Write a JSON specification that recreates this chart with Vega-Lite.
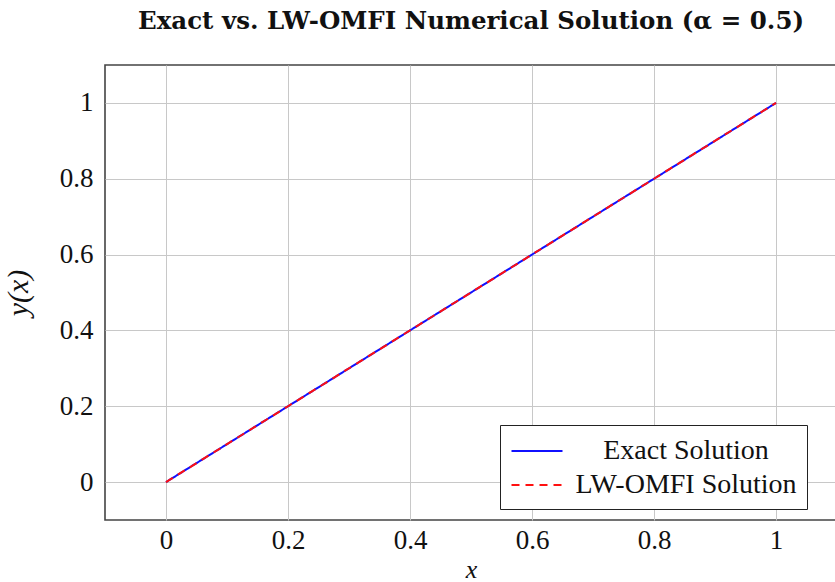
{
  "$schema": "https://vega.github.io/schema/vega-lite/v6.json",
  "autosize": "none",
  "width": 732,
  "height": 455,
  "padding": {"left": 105, "top": 65, "right": 0, "bottom": 62},
  "background": "white",
  "title": {
    "text": "Exact vs. LW-OMFI Numerical Solution (α = 0.5)",
    "font": "DejaVu Serif",
    "fontSize": 24.5,
    "fontWeight": "bold",
    "anchor": "middle",
    "offset": 31,
    "color": "#111"
  },
  "config": {
    "view": {"stroke": "#444", "strokeWidth": 1.6},
    "axis": {
      "labelFont": "Liberation Serif",
      "labelFontSize": 27,
      "labelColor": "#111",
      "titleFont": "Liberation Serif",
      "titleFontSize": 30,
      "titleFontStyle": "italic",
      "titleFontWeight": "normal",
      "titleColor": "#111",
      "grid": true,
      "gridColor": "#c8c8c8",
      "gridWidth": 1,
      "domain": false,
      "ticks": false
    }
  },
  "data": {
    "values": [
      {"x": 0, "y": 0, "series": "Exact Solution"},
      {"x": 0.2, "y": 0.2, "series": "Exact Solution"},
      {"x": 0.4, "y": 0.4, "series": "Exact Solution"},
      {"x": 0.6, "y": 0.6, "series": "Exact Solution"},
      {"x": 0.8, "y": 0.8, "series": "Exact Solution"},
      {"x": 1, "y": 1, "series": "Exact Solution"},
      {"x": 0, "y": 0, "series": "LW-OMFI Solution"},
      {"x": 0.2, "y": 0.2, "series": "LW-OMFI Solution"},
      {"x": 0.4, "y": 0.4, "series": "LW-OMFI Solution"},
      {"x": 0.6, "y": 0.6, "series": "LW-OMFI Solution"},
      {"x": 0.8, "y": 0.8, "series": "LW-OMFI Solution"},
      {"x": 1, "y": 1, "series": "LW-OMFI Solution"}
    ]
  },
  "mark": {"type": "line", "strokeWidth": 2},
  "encoding": {
    "x": {
      "field": "x", "type": "quantitative",
      "scale": {"domain": [-0.1, 1.1], "nice": false, "zero": false},
      "axis": {"values": [0, 0.2, 0.4, 0.6, 0.8, 1], "format": "~g", "labelPadding": 7, "title": "x", "titleFontSize": 26, "titlePadding": 3}
    },
    "y": {
      "field": "y", "type": "quantitative",
      "scale": {"domain": [-0.1, 1.1], "nice": false, "zero": false},
      "axis": {"values": [0, 0.2, 0.4, 0.6, 0.8, 1], "format": "~g", "labelPadding": 12, "title": "y(x)", "titlePadding": 26}
    },
    "color": {
      "field": "series", "type": "nominal",
      "scale": {"domain": ["Exact Solution", "LW-OMFI Solution"], "range": ["#1010ff", "#ff1010"]},
      "legend": {
        "title": null,
        "orient": "none",
        "legendX": 395,
        "legendY": 360,
        "fillColor": "white",
        "strokeColor": "#222",
        "padding": 10,
        "labelFont": "Liberation Serif",
        "labelFontSize": 28,
        "labelColor": "#111",
        "labelLimit": 400,
        "labelAlign": "center",
        "labelOffset": 133,
        "symbolType": "M-1.7,0H1.7",
        "symbolSize": 900,
        "symbolOffset": 11,
        "symbolStrokeWidth": 2,
        "symbolFillColor": "transparent",
        "rowPadding": 4
      }
    },
    "strokeDash": {
      "field": "series", "type": "nominal",
      "scale": {"domain": ["Exact Solution", "LW-OMFI Solution"], "range": [[1, 0], [8, 6]]},
      "legend": {
        "title": null
      }
    },
    "order": {"field": "series"}
  }
}
